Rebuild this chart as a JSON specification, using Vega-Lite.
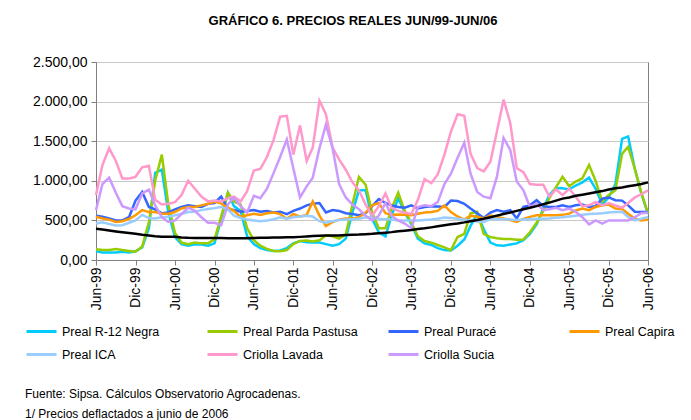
{
"$schema": "https://vega.github.io/schema/vega-lite/v6.json",
"width": 552, "height": 198,
"autosize": {"type": "none"},
"padding": {"left": 96, "top": 62, "right": 43, "bottom": 160},
"background": "white",
"title": {"text": "GRÁFICO 6. PRECIOS REALES JUN/99-JUN/06", "font": "Liberation Sans", "fontSize": 13, "fontWeight": "bold", "offset": 27, "dx": -19, "anchor": "middle", "color": "black"},
"data": {"values": [
{"mes":"1999/06/01","Preal R-12 Negra":110,"Preal Parda Pastusa":135,"Preal Puracé":560,"Preal Capira":545,"Preal ICA":460,"Criolla Lavada":820,"Criolla Sucia":630,"Tendencia":395},
{"mes":"1999/07/01","Preal R-12 Negra":95,"Preal Parda Pastusa":125,"Preal Puracé":545,"Preal Capira":525,"Preal ICA":475,"Criolla Lavada":1200,"Criolla Sucia":960,"Tendencia":385},
{"mes":"1999/08/01","Preal R-12 Negra":95,"Preal Parda Pastusa":125,"Preal Puracé":525,"Preal Capira":510,"Preal ICA":455,"Criolla Lavada":1410,"Criolla Sucia":1040,"Tendencia":372},
{"mes":"1999/09/01","Preal R-12 Negra":95,"Preal Parda Pastusa":140,"Preal Puracé":500,"Preal Capira":480,"Preal ICA":437,"Criolla Lavada":1250,"Criolla Sucia":850,"Tendencia":360},
{"mes":"1999/10/01","Preal R-12 Negra":105,"Preal Parda Pastusa":125,"Preal Puracé":500,"Preal Capira":490,"Preal ICA":440,"Criolla Lavada":1030,"Criolla Sucia":680,"Tendencia":350},
{"mes":"1999/11/01","Preal R-12 Negra":95,"Preal Parda Pastusa":115,"Preal Puracé":540,"Preal Capira":520,"Preal ICA":470,"Criolla Lavada":1030,"Criolla Sucia":650,"Tendencia":340},
{"mes":"1999/12/01","Preal R-12 Negra":110,"Preal Parda Pastusa":105,"Preal Puracé":750,"Preal Capira":565,"Preal ICA":500,"Criolla Lavada":1050,"Criolla Sucia":640,"Tendencia":330},
{"mes":"2000/01/01","Preal R-12 Negra":160,"Preal Parda Pastusa":170,"Preal Puracé":860,"Preal Capira":630,"Preal ICA":570,"Criolla Lavada":1170,"Criolla Sucia":840,"Tendencia":318},
{"mes":"2000/02/01","Preal R-12 Negra":400,"Preal Parda Pastusa":480,"Preal Puracé":670,"Preal Capira":605,"Preal ICA":530,"Criolla Lavada":1190,"Criolla Sucia":890,"Tendencia":308},
{"mes":"2000/03/01","Preal R-12 Negra":1100,"Preal Parda Pastusa":1000,"Preal Puracé":640,"Preal Capira":605,"Preal ICA":525,"Criolla Lavada":760,"Criolla Sucia":690,"Tendencia":300},
{"mes":"2000/04/01","Preal R-12 Negra":1140,"Preal Parda Pastusa":1330,"Preal Puracé":590,"Preal Capira":585,"Preal ICA":540,"Criolla Lavada":700,"Criolla Sucia":540,"Tendencia":295},
{"mes":"2000/05/01","Preal R-12 Negra":600,"Preal Parda Pastusa":700,"Preal Puracé":600,"Preal Capira":585,"Preal ICA":545,"Criolla Lavada":710,"Criolla Sucia":480,"Tendencia":295},
{"mes":"2000/06/01","Preal R-12 Negra":290,"Preal Parda Pastusa":340,"Preal Puracé":640,"Preal Capira":605,"Preal ICA":565,"Criolla Lavada":730,"Criolla Sucia":500,"Tendencia":293},
{"mes":"2000/07/01","Preal R-12 Negra":200,"Preal Parda Pastusa":220,"Preal Puracé":670,"Preal Capira":650,"Preal ICA":585,"Criolla Lavada":820,"Criolla Sucia":580,"Tendencia":285},
{"mes":"2000/08/01","Preal R-12 Negra":180,"Preal Parda Pastusa":200,"Preal Puracé":690,"Preal Capira":670,"Preal ICA":605,"Criolla Lavada":1000,"Criolla Sucia":660,"Tendencia":280},
{"mes":"2000/09/01","Preal R-12 Negra":200,"Preal Parda Pastusa":220,"Preal Puracé":680,"Preal Capira":670,"Preal ICA":610,"Criolla Lavada":900,"Criolla Sucia":620,"Tendencia":278},
{"mes":"2000/10/01","Preal R-12 Negra":195,"Preal Parda Pastusa":210,"Preal Puracé":670,"Preal Capira":690,"Preal ICA":630,"Criolla Lavada":800,"Criolla Sucia":540,"Tendencia":278},
{"mes":"2000/11/01","Preal R-12 Negra":180,"Preal Parda Pastusa":210,"Preal Puracé":710,"Preal Capira":710,"Preal ICA":645,"Criolla Lavada":740,"Criolla Sucia":470,"Tendencia":278},
{"mes":"2000/12/01","Preal R-12 Negra":210,"Preal Parda Pastusa":260,"Preal Puracé":720,"Preal Capira":735,"Preal ICA":655,"Criolla Lavada":750,"Criolla Sucia":470,"Tendencia":278},
{"mes":"2001/01/01","Preal R-12 Negra":520,"Preal Parda Pastusa":550,"Preal Puracé":800,"Preal Capira":715,"Preal ICA":670,"Criolla Lavada":740,"Criolla Sucia":440,"Tendencia":278},
{"mes":"2001/02/01","Preal R-12 Negra":850,"Preal Parda Pastusa":850,"Preal Puracé":640,"Preal Capira":660,"Preal ICA":640,"Criolla Lavada":780,"Criolla Sucia":700,"Tendencia":275},
{"mes":"2001/03/01","Preal R-12 Negra":680,"Preal Parda Pastusa":740,"Preal Puracé":630,"Preal Capira":620,"Preal ICA":560,"Criolla Lavada":800,"Criolla Sucia":790,"Tendencia":275},
{"mes":"2001/04/01","Preal R-12 Negra":620,"Preal Parda Pastusa":700,"Preal Puracé":610,"Preal Capira":545,"Preal ICA":530,"Criolla Lavada":740,"Criolla Sucia":680,"Tendencia":275},
{"mes":"2001/05/01","Preal R-12 Negra":300,"Preal Parda Pastusa":400,"Preal Puracé":620,"Preal Capira":565,"Preal ICA":510,"Criolla Lavada":870,"Criolla Sucia":600,"Tendencia":276},
{"mes":"2001/06/01","Preal R-12 Negra":200,"Preal Parda Pastusa":250,"Preal Puracé":630,"Preal Capira":585,"Preal ICA":500,"Criolla Lavada":1130,"Criolla Sucia":810,"Tendencia":278},
{"mes":"2001/07/01","Preal R-12 Negra":150,"Preal Parda Pastusa":180,"Preal Puracé":610,"Preal Capira":570,"Preal ICA":490,"Criolla Lavada":1150,"Criolla Sucia":780,"Tendencia":280},
{"mes":"2001/08/01","Preal R-12 Negra":125,"Preal Parda Pastusa":140,"Preal Puracé":620,"Preal Capira":590,"Preal ICA":500,"Criolla Lavada":1300,"Criolla Sucia":900,"Tendencia":282},
{"mes":"2001/09/01","Preal R-12 Negra":115,"Preal Parda Pastusa":115,"Preal Puracé":600,"Preal Capira":600,"Preal ICA":515,"Criolla Lavada":1520,"Criolla Sucia":1100,"Tendencia":283},
{"mes":"2001/10/01","Preal R-12 Negra":120,"Preal Parda Pastusa":110,"Preal Puracé":610,"Preal Capira":580,"Preal ICA":540,"Criolla Lavada":1810,"Criolla Sucia":1300,"Tendencia":285},
{"mes":"2001/11/01","Preal R-12 Negra":150,"Preal Parda Pastusa":125,"Preal Puracé":580,"Preal Capira":520,"Preal ICA":520,"Criolla Lavada":1820,"Criolla Sucia":1520,"Tendencia":286},
{"mes":"2001/12/01","Preal R-12 Negra":210,"Preal Parda Pastusa":200,"Preal Puracé":620,"Preal Capira":580,"Preal ICA":540,"Criolla Lavada":1330,"Criolla Sucia":1160,"Tendencia":288},
{"mes":"2002/01/01","Preal R-12 Negra":240,"Preal Parda Pastusa":240,"Preal Puracé":650,"Preal Capira":550,"Preal ICA":550,"Criolla Lavada":1700,"Criolla Sucia":790,"Tendencia":292},
{"mes":"2002/02/01","Preal R-12 Negra":225,"Preal Parda Pastusa":245,"Preal Puracé":690,"Preal Capira":570,"Preal ICA":560,"Criolla Lavada":1250,"Criolla Sucia":930,"Tendencia":297},
{"mes":"2002/03/01","Preal R-12 Negra":220,"Preal Parda Pastusa":235,"Preal Puracé":710,"Preal Capira":740,"Preal ICA":550,"Criolla Lavada":1420,"Criolla Sucia":1040,"Tendencia":302},
{"mes":"2002/04/01","Preal R-12 Negra":220,"Preal Parda Pastusa":250,"Preal Puracé":720,"Preal Capira":560,"Preal ICA":490,"Criolla Lavada":2010,"Criolla Sucia":1410,"Tendencia":306},
{"mes":"2002/05/01","Preal R-12 Negra":200,"Preal Parda Pastusa":310,"Preal Puracé":600,"Preal Capira":430,"Preal ICA":470,"Criolla Lavada":1840,"Criolla Sucia":1710,"Tendencia":308},
{"mes":"2002/06/01","Preal R-12 Negra":180,"Preal Parda Pastusa":300,"Preal Puracé":630,"Preal Capira":480,"Preal ICA":490,"Criolla Lavada":1420,"Criolla Sucia":1410,"Tendencia":308},
{"mes":"2002/07/01","Preal R-12 Negra":200,"Preal Parda Pastusa":270,"Preal Puracé":620,"Preal Capira":510,"Preal ICA":505,"Criolla Lavada":1270,"Criolla Sucia":960,"Tendencia":310},
{"mes":"2002/08/01","Preal R-12 Negra":270,"Preal Parda Pastusa":320,"Preal Puracé":590,"Preal Capira":525,"Preal ICA":510,"Criolla Lavada":1140,"Criolla Sucia":790,"Tendencia":315},
{"mes":"2002/09/01","Preal R-12 Negra":600,"Preal Parda Pastusa":700,"Preal Puracé":580,"Preal Capira":525,"Preal ICA":515,"Criolla Lavada":980,"Criolla Sucia":700,"Tendencia":320},
{"mes":"2002/10/01","Preal R-12 Negra":880,"Preal Parda Pastusa":1050,"Preal Puracé":565,"Preal Capira":540,"Preal ICA":520,"Criolla Lavada":880,"Criolla Sucia":640,"Tendencia":322},
{"mes":"2002/11/01","Preal R-12 Negra":880,"Preal Parda Pastusa":950,"Preal Puracé":590,"Preal Capira":600,"Preal ICA":540,"Criolla Lavada":700,"Criolla Sucia":560,"Tendencia":326},
{"mes":"2002/12/01","Preal R-12 Negra":520,"Preal Parda Pastusa":600,"Preal Puracé":680,"Preal Capira":690,"Preal ICA":535,"Criolla Lavada":560,"Criolla Sucia":500,"Tendencia":330},
{"mes":"2003/01/01","Preal R-12 Negra":350,"Preal Parda Pastusa":400,"Preal Puracé":770,"Preal Capira":720,"Preal ICA":520,"Criolla Lavada":680,"Criolla Sucia":560,"Tendencia":338},
{"mes":"2003/02/01","Preal R-12 Negra":300,"Preal Parda Pastusa":400,"Preal Puracé":720,"Preal Capira":590,"Preal ICA":515,"Criolla Lavada":840,"Criolla Sucia":720,"Tendencia":345},
{"mes":"2003/03/01","Preal R-12 Negra":560,"Preal Parda Pastusa":650,"Preal Puracé":690,"Preal Capira":570,"Preal ICA":510,"Criolla Lavada":660,"Criolla Sucia":560,"Tendencia":352},
{"mes":"2003/04/01","Preal R-12 Negra":780,"Preal Parda Pastusa":850,"Preal Puracé":670,"Preal Capira":575,"Preal ICA":500,"Criolla Lavada":620,"Criolla Sucia":500,"Tendencia":362},
{"mes":"2003/05/01","Preal R-12 Negra":600,"Preal Parda Pastusa":620,"Preal Puracé":660,"Preal Capira":570,"Preal ICA":500,"Criolla Lavada":600,"Criolla Sucia":460,"Tendencia":370},
{"mes":"2003/06/01","Preal R-12 Negra":450,"Preal Parda Pastusa":470,"Preal Puracé":690,"Preal Capira":565,"Preal ICA":500,"Criolla Lavada":580,"Criolla Sucia":400,"Tendencia":380},
{"mes":"2003/07/01","Preal R-12 Negra":270,"Preal Parda Pastusa":300,"Preal Puracé":650,"Preal Capira":585,"Preal ICA":500,"Criolla Lavada":760,"Criolla Sucia":670,"Tendencia":392},
{"mes":"2003/08/01","Preal R-12 Negra":210,"Preal Parda Pastusa":240,"Preal Puracé":670,"Preal Capira":600,"Preal ICA":505,"Criolla Lavada":1020,"Criolla Sucia":690,"Tendencia":400},
{"mes":"2003/09/01","Preal R-12 Negra":190,"Preal Parda Pastusa":220,"Preal Puracé":680,"Preal Capira":605,"Preal ICA":510,"Criolla Lavada":970,"Criolla Sucia":680,"Tendencia":412},
{"mes":"2003/10/01","Preal R-12 Negra":150,"Preal Parda Pastusa":190,"Preal Puracé":675,"Preal Capira":620,"Preal ICA":520,"Criolla Lavada":1080,"Criolla Sucia":730,"Tendencia":425},
{"mes":"2003/11/01","Preal R-12 Negra":125,"Preal Parda Pastusa":160,"Preal Puracé":670,"Preal Capira":690,"Preal ICA":535,"Criolla Lavada":1330,"Criolla Sucia":960,"Tendencia":440},
{"mes":"2003/12/01","Preal R-12 Negra":120,"Preal Parda Pastusa":125,"Preal Puracé":750,"Preal Capira":605,"Preal ICA":530,"Criolla Lavada":1620,"Criolla Sucia":1090,"Tendencia":452},
{"mes":"2004/01/01","Preal R-12 Negra":180,"Preal Parda Pastusa":290,"Preal Puracé":745,"Preal Capira":550,"Preal ICA":520,"Criolla Lavada":1840,"Criolla Sucia":1290,"Tendencia":462},
{"mes":"2004/02/01","Preal R-12 Negra":260,"Preal Parda Pastusa":330,"Preal Puracé":710,"Preal Capira":510,"Preal ICA":510,"Criolla Lavada":1820,"Criolla Sucia":1480,"Tendencia":475},
{"mes":"2004/03/01","Preal R-12 Negra":430,"Preal Parda Pastusa":590,"Preal Puracé":650,"Preal Capira":560,"Preal ICA":500,"Criolla Lavada":1340,"Criolla Sucia":1090,"Tendencia":490},
{"mes":"2004/04/01","Preal R-12 Negra":580,"Preal Parda Pastusa":610,"Preal Puracé":590,"Preal Capira":545,"Preal ICA":485,"Criolla Lavada":1160,"Criolla Sucia":860,"Tendencia":505},
{"mes":"2004/05/01","Preal R-12 Negra":390,"Preal Parda Pastusa":330,"Preal Puracé":530,"Preal Capira":525,"Preal ICA":480,"Criolla Lavada":1120,"Criolla Sucia":800,"Tendencia":520},
{"mes":"2004/06/01","Preal R-12 Negra":220,"Preal Parda Pastusa":290,"Preal Puracé":600,"Preal Capira":560,"Preal ICA":515,"Criolla Lavada":1240,"Criolla Sucia":780,"Tendencia":540},
{"mes":"2004/07/01","Preal R-12 Negra":185,"Preal Parda Pastusa":275,"Preal Puracé":630,"Preal Capira":545,"Preal ICA":520,"Criolla Lavada":1620,"Criolla Sucia":1050,"Tendencia":560},
{"mes":"2004/08/01","Preal R-12 Negra":180,"Preal Parda Pastusa":265,"Preal Puracé":610,"Preal Capira":525,"Preal ICA":515,"Criolla Lavada":2025,"Criolla Sucia":1540,"Tendencia":580},
{"mes":"2004/09/01","Preal R-12 Negra":195,"Preal Parda Pastusa":265,"Preal Puracé":630,"Preal Capira":505,"Preal ICA":510,"Criolla Lavada":1730,"Criolla Sucia":1390,"Tendencia":600},
{"mes":"2004/10/01","Preal R-12 Negra":210,"Preal Parda Pastusa":255,"Preal Puracé":525,"Preal Capira":480,"Preal ICA":505,"Criolla Lavada":1160,"Criolla Sucia":990,"Tendencia":620},
{"mes":"2004/11/01","Preal R-12 Negra":250,"Preal Parda Pastusa":260,"Preal Puracé":670,"Preal Capira":520,"Preal ICA":510,"Criolla Lavada":1110,"Criolla Sucia":880,"Tendencia":640},
{"mes":"2004/12/01","Preal R-12 Negra":330,"Preal Parda Pastusa":350,"Preal Puracé":690,"Preal Capira":545,"Preal ICA":515,"Criolla Lavada":960,"Criolla Sucia":670,"Tendencia":660},
{"mes":"2005/01/01","Preal R-12 Negra":450,"Preal Parda Pastusa":470,"Preal Puracé":755,"Preal Capira":565,"Preal ICA":520,"Criolla Lavada":950,"Criolla Sucia":710,"Tendencia":680},
{"mes":"2005/02/01","Preal R-12 Negra":650,"Preal Parda Pastusa":620,"Preal Puracé":680,"Preal Capira":565,"Preal ICA":520,"Criolla Lavada":950,"Criolla Sucia":630,"Tendencia":705},
{"mes":"2005/03/01","Preal R-12 Negra":820,"Preal Parda Pastusa":780,"Preal Puracé":670,"Preal Capira":565,"Preal ICA":525,"Criolla Lavada":800,"Criolla Sucia":640,"Tendencia":725},
{"mes":"2005/04/01","Preal R-12 Negra":910,"Preal Parda Pastusa":920,"Preal Puracé":670,"Preal Capira":565,"Preal ICA":535,"Criolla Lavada":890,"Criolla Sucia":660,"Tendencia":750},
{"mes":"2005/05/01","Preal R-12 Negra":905,"Preal Parda Pastusa":1050,"Preal Puracé":690,"Preal Capira":570,"Preal ICA":540,"Criolla Lavada":820,"Criolla Sucia":630,"Tendencia":775},
{"mes":"2005/06/01","Preal R-12 Negra":890,"Preal Parda Pastusa":930,"Preal Puracé":670,"Preal Capira":585,"Preal ICA":550,"Criolla Lavada":900,"Criolla Sucia":650,"Tendencia":790},
{"mes":"2005/07/01","Preal R-12 Negra":940,"Preal Parda Pastusa":990,"Preal Puracé":690,"Preal Capira":625,"Preal ICA":560,"Criolla Lavada":800,"Criolla Sucia":610,"Tendencia":810},
{"mes":"2005/08/01","Preal R-12 Negra":980,"Preal Parda Pastusa":1030,"Preal Puracé":700,"Preal Capira":650,"Preal ICA":570,"Criolla Lavada":680,"Criolla Sucia":540,"Tendencia":825},
{"mes":"2005/09/01","Preal R-12 Negra":1040,"Preal Parda Pastusa":1200,"Preal Puracé":670,"Preal Capira":630,"Preal ICA":580,"Criolla Lavada":690,"Criolla Sucia":450,"Tendencia":840},
{"mes":"2005/10/01","Preal R-12 Negra":900,"Preal Parda Pastusa":1000,"Preal Puracé":680,"Preal Capira":670,"Preal ICA":585,"Criolla Lavada":730,"Criolla Sucia":500,"Tendencia":855},
{"mes":"2005/11/01","Preal R-12 Negra":700,"Preal Parda Pastusa":740,"Preal Puracé":775,"Preal Capira":690,"Preal ICA":590,"Criolla Lavada":690,"Criolla Sucia":460,"Tendencia":870},
{"mes":"2005/12/01","Preal R-12 Negra":790,"Preal Parda Pastusa":820,"Preal Puracé":790,"Preal Capira":700,"Preal ICA":600,"Criolla Lavada":720,"Criolla Sucia":500,"Tendencia":890},
{"mes":"2006/01/01","Preal R-12 Negra":960,"Preal Parda Pastusa":880,"Preal Puracé":755,"Preal Capira":650,"Preal ICA":605,"Criolla Lavada":690,"Criolla Sucia":500,"Tendencia":905},
{"mes":"2006/02/01","Preal R-12 Negra":1530,"Preal Parda Pastusa":1340,"Preal Puracé":750,"Preal Capira":645,"Preal ICA":610,"Criolla Lavada":660,"Criolla Sucia":500,"Tendencia":915},
{"mes":"2006/03/01","Preal R-12 Negra":1560,"Preal Parda Pastusa":1430,"Preal Puracé":690,"Preal Capira":585,"Preal ICA":545,"Criolla Lavada":720,"Criolla Sucia":500,"Tendencia":930},
{"mes":"2006/04/01","Preal R-12 Negra":1150,"Preal Parda Pastusa":1150,"Preal Puracé":610,"Preal Capira":520,"Preal ICA":500,"Criolla Lavada":790,"Criolla Sucia":540,"Tendencia":945},
{"mes":"2006/05/01","Preal R-12 Negra":840,"Preal Parda Pastusa":850,"Preal Puracé":605,"Preal Capira":500,"Preal ICA":520,"Criolla Lavada":830,"Criolla Sucia":590,"Tendencia":960},
{"mes":"2006/06/01","Preal R-12 Negra":580,"Preal Parda Pastusa":590,"Preal Puracé":605,"Preal Capira":510,"Preal ICA":545,"Criolla Lavada":880,"Criolla Sucia":600,"Tendencia":980}
]},
"encoding": {
  "x": {"field": "mes", "type": "temporal", "title": null,
    "scale": {"nice": false},
    "axis": {"values": [
      {"year":1999,"month":6,"date":1},{"year":1999,"month":12,"date":1},
      {"year":2000,"month":6,"date":1},{"year":2000,"month":12,"date":1},
      {"year":2001,"month":6,"date":1},{"year":2001,"month":12,"date":1},
      {"year":2002,"month":6,"date":1},{"year":2002,"month":12,"date":1},
      {"year":2003,"month":6,"date":1},{"year":2003,"month":12,"date":1},
      {"year":2004,"month":6,"date":1},{"year":2004,"month":12,"date":1},
      {"year":2005,"month":6,"date":1},{"year":2005,"month":12,"date":1},
      {"year":2006,"month":6,"date":1}],
      "format": "%b-%y", "labelAngle": -90, "labelFont": "Liberation Sans", "labelFontSize": 14,
      "labelColor": "black", "labelPadding": 2, "tickSize": 5, "tickColor": "#808080",
      "domainColor": "#808080", "grid": false, "labelFlush": false, "labelOverlap": false}}
},
"layer": [
  {"transform": [{"fold": ["Preal R-12 Negra", "Preal Parda Pastusa", "Preal Puracé", "Preal Capira", "Preal ICA", "Criolla Lavada", "Criolla Sucia"], "as": ["serie", "valor"]}],
   "mark": {"type": "line", "strokeWidth": 2.5},
   "encoding": {
     "y": {"field": "valor", "type": "quantitative", "title": null,
       "scale": {"domain": [0, 2500], "nice": false},
       "axis": {"values": [0, 500, 1000, 1500, 2000, 2500], "format": ",.2f", "labelFont": "Liberation Sans",
         "labelFontSize": 14, "labelColor": "black", "labelPadding": 4, "tickSize": 5, "tickColor": "#808080",
         "domainColor": "#808080", "grid": true, "gridColor": "#c8c8c8", "labelOverlap": false, "labelFlush": false}},
     "color": {"field": "serie", "type": "nominal",
       "scale": {"domain": ["Preal R-12 Negra", "Preal Parda Pastusa", "Preal Puracé", "Preal Capira", "Preal ICA", "Criolla Lavada", "Criolla Sucia"],
                 "range": ["#00ccff", "#99cc00", "#3366ff", "#ff9900", "#99ccff", "#ff99cc", "#cc99ff"]},
       "legend": {"title": ["Fuente: Sipsa. Cálculos Observatorio Agrocadenas.", "1/ Precios deflactados a junio de 2006"],
         "titleOrient": "bottom", "titleAnchor": "start", "titleFontWeight": "normal", "titleFontSize": 12,
         "titleFont": "Liberation Sans", "titleColor": "black", "titleLineHeight": 20, "titlePadding": 28, "titleLimit": 650,
         "orient": "none", "legendX": -71, "legendY": 253, "direction": "horizontal", "columns": 4,
         "gridAlign": "all", "columnPadding": 24, "rowPadding": -5, "symbolType": "stroke", "symbolSize": 900,
         "symbolStrokeWidth": 3, "labelFont": "Liberation Sans", "labelFontSize": 12.5, "labelColor": "black",
         "labelOffset": 4, "labelLimit": 300, "padding": 0}}
   }},
  {"mark": {"type": "line", "color": "black", "strokeWidth": 2.5},
   "encoding": {"y": {"field": "Tendencia", "type": "quantitative", "title": null,
       "scale": {"domain": [0, 2500], "nice": false},
       "axis": {"values": [0, 500, 1000, 1500, 2000, 2500], "format": ",.2f", "labelFont": "Liberation Sans",
         "labelFontSize": 14, "labelColor": "black", "labelPadding": 4, "tickSize": 5, "tickColor": "#808080",
         "domainColor": "#808080", "grid": true, "gridColor": "#c8c8c8", "labelOverlap": false, "labelFlush": false}}}}
],
"config": {
  "font": "Liberation Sans",
  "view": {"stroke": "#808080"},
  "locale": {
    "number": {"decimal": ",", "thousands": ".", "grouping": [3], "currency": ["$", ""]},
    "time": {"dateTime": "%A, %e de %B de %Y, %X", "date": "%d/%m/%Y", "time": "%H:%M:%S", "periods": ["AM", "PM"],
      "days": ["domingo", "lunes", "martes", "miércoles", "jueves", "viernes", "sábado"],
      "shortDays": ["dom", "lun", "mar", "mié", "jue", "vie", "sáb"],
      "months": ["enero", "febrero", "marzo", "abril", "mayo", "junio", "julio", "agosto", "septiembre", "octubre", "noviembre", "diciembre"],
      "shortMonths": ["Ene", "Feb", "Mar", "Abr", "May", "Jun", "Jul", "Ago", "Sep", "Oct", "Nov", "Dic"]}
  }
}
}
